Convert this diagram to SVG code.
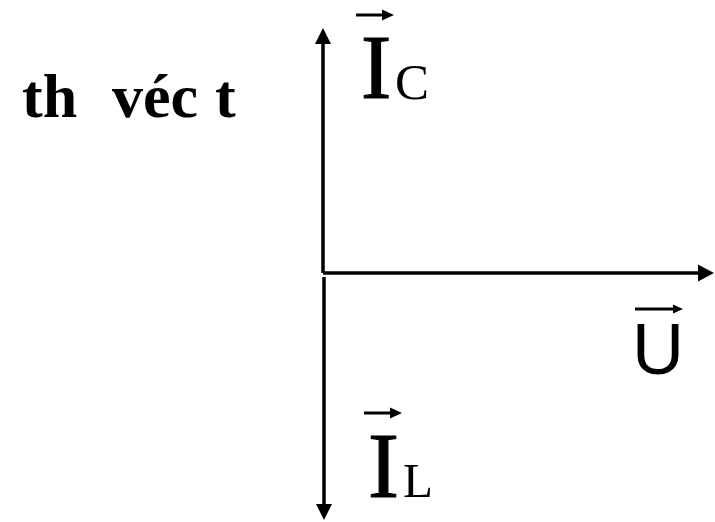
<svg xmlns="http://www.w3.org/2000/svg" width="715" height="522" viewBox="0 0 715 522">
<style>
.axis{stroke:#000;stroke-width:3.5;fill:none}
.head{fill:#000}
.vec{stroke:#000;stroke-width:3;fill:none}
.serif{font-family:"Liberation Serif","Times New Roman",serif;fill:#000}
.big{stroke:#000;stroke-width:1.2}
.sans{font-family:"Liberation Sans",Arial,sans-serif;fill:#000}
</style>
<rect width="715" height="522" fill="#fff"/>
<g id="title">
<text class="serif" font-weight="bold" font-size="62" y="117"><tspan x="22">th</tspan><tspan x="112">véc</tspan><tspan x="215">t</tspan></text>
</g>
<g id="connectors">
<line class="axis" x1="323" y1="273" x2="323" y2="40"/>
<polygon class="head" points="323,28 315,44 331,44"/>
<line class="axis" x1="323" y1="273" x2="702" y2="273"/>
<polygon class="head" points="714,273 698,264.5 698,281.5"/>
<line class="axis" x1="324" y1="277" x2="324" y2="508"/>
<polygon class="head" points="324,520 316,504 332,504"/>
</g>
<g id="IC">
<text class="serif big" font-size="91" x="361" y="98">I</text>
<text class="serif" font-size="51" x="395" y="99">C</text>
<line class="vec" x1="356" y1="15" x2="384" y2="15"/>
<polygon class="head" points="394,15 382,9.5 382,20.5"/>
</g>
<g id="U">
<text class="sans" font-size="72" x="632" y="374">U</text>
<line class="vec" x1="635" y1="309" x2="675" y2="309" stroke-width="2.5"/>
<polygon class="head" points="683,309 673,304.5 673,313.5"/>
</g>
<g id="IL">
<text class="serif big" font-size="93" x="368" y="497">I</text>
<text class="serif" font-size="49" x="403" y="497">L</text>
<line class="vec" x1="364" y1="413" x2="392" y2="413"/>
<polygon class="head" points="402,413 390,407.5 390,418.5"/>
</g>
</svg>
